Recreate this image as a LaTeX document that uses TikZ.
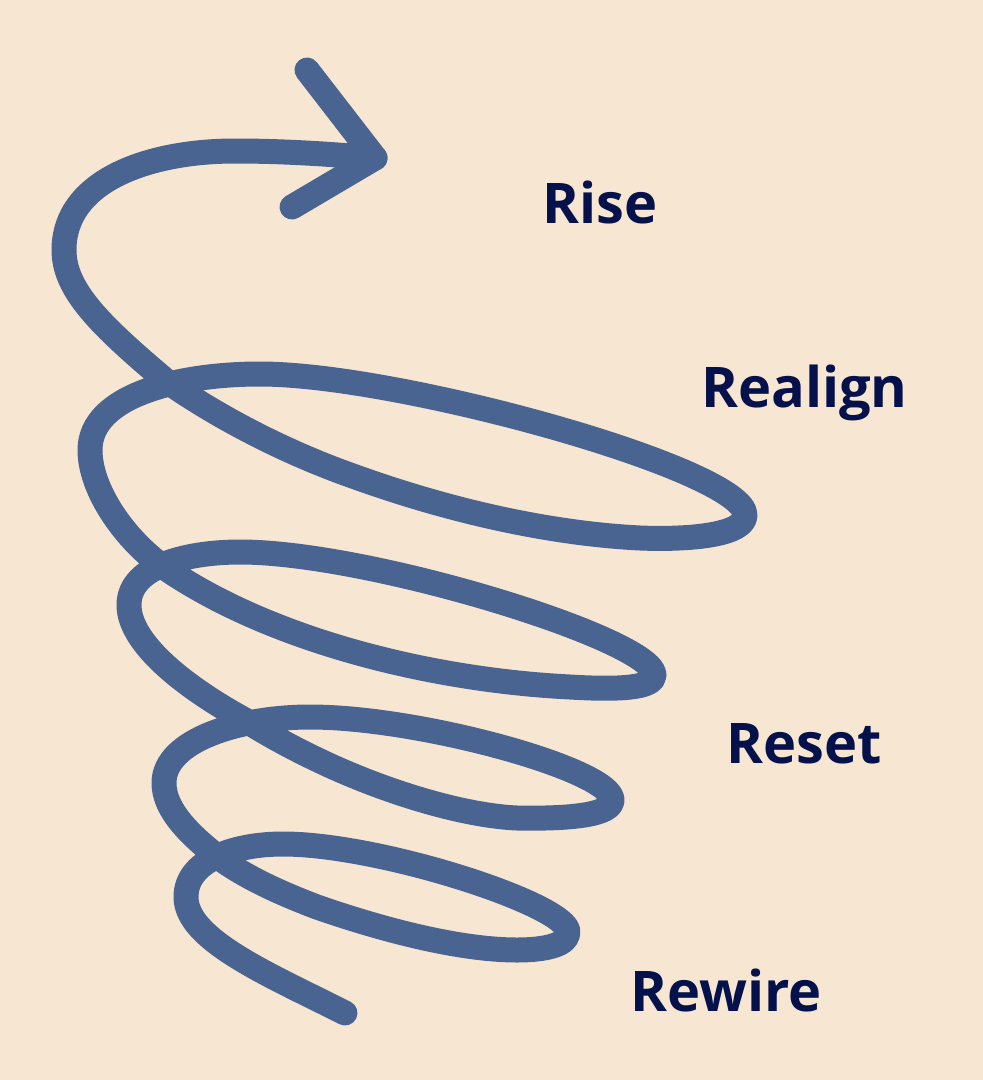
\documentclass[tikz,border=0pt]{standalone}
\usepackage{fontspec}
\setmainfont{Open Sans}
\definecolor{bgc}{HTML}{F7E7D2}
\definecolor{coil}{HTML}{4A6491}
\definecolor{ink}{HTML}{04114A}
\tikzset{
  coilline/.style={draw=coil,line width=25pt,line cap=round,line join=round},
  lbl/.style={text=ink,font=\fontsize{56}{62}\selectfont\bfseries,inner sep=0pt,anchor=base west}
}
\begin{document}
\begin{tikzpicture}[x=1pt,y=-1pt]
\useasboundingbox (0,0) rectangle (983,1080);
\fill[bgc] (0,0) rectangle (983,1080);
\draw[coilline] (345,1013) .. controls (270,975) and (186,940) .. (186,897)
 .. controls (186,860) and (235,844) .. (283,844)
 .. controls (380,844) and (568,905) .. (568,932)
 .. controls (568,945) and (545,950) .. (517,950)
 .. controls (460,950) and (383,930) .. (317,907)
 .. controls (280,893) and (245,877) .. (218,857)
 .. controls (190,835) and (164,810) .. (164,783)
 .. controls (164,740) and (240,717) .. (310,717)
 .. controls (420,717) and (612,770) .. (612,800)
 .. controls (612,815) and (570,819) .. (517,818)
 .. controls (470,816) and (400,797) .. (333,767)
 .. controls (300,752) and (270,736) .. (245,720)
 .. controls (190,690) and (129,645) .. (129,605)
 .. controls (129,565) and (190,552) .. (240,552)
 .. controls (370,552) and (654,640) .. (654,675)
 .. controls (654,688) and (620,690) .. (570,687)
 .. controls (430,680) and (270,640) .. (165,568)
 .. controls (125,540) and (90,490) .. (90,450)
 .. controls (90,395) and (180,374) .. (260,374)
 .. controls (400,374) and (745,470) .. (745,515)
 .. controls (745,535) and (690,540) .. (640,538)
 .. controls (560,534) and (460,515) .. (350,475)
 .. controls (280,450) and (215,415) .. (165,380)
 .. controls (100,325) and (64,290) .. (64,250)
 .. controls (64,180) and (150,151) .. (235,151)
 .. controls (290,151) and (340,155) .. (375,158);
\draw[coilline] (307,70) -- (375,158) -- (292,207);
\node[lbl] (rise) at (542,223) {Rise};
\node[lbl] (realign) at (701,407) {Realign};
\node[lbl] (reset) at (726,763) {Reset};
\node[lbl] (rewire) at (630,1011) {Rewire};
\end{tikzpicture}
\end{document}
